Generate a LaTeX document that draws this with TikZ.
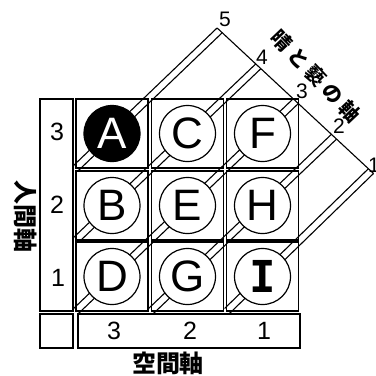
\documentclass[tikz,border=0pt]{standalone}
\usepackage{fontspec}
\setmainfont{Liberation Sans}
\newfontfamily\cjk{Noto Sans CJK JP}
\newfontfamily\monoI{DejaVu Sans Mono}
\usetikzlibrary{calc}
\begin{document}
\begin{tikzpicture}[x=1pt,y=-1pt,
  cellbox/.style={draw, line width=1.3pt, inner sep=0pt, minimum width=72pt, minimum height=69pt},
  framebox/.style={draw, line width=1.3pt, inner sep=0pt},
  stripline/.style={line width=1.1pt},
  disc/.style={circle, draw, line width=1.2pt, fill=white, minimum size=56pt, inner sep=0pt, font=\fontsize{44}{44}\selectfont},
  num/.style={font=\fontsize{25}{25}\selectfont, inner sep=0pt},
  tipnum/.style={font=\fontsize{21}{21}\selectfont, inner sep=0pt},
  jp/.style={font=\cjk\bfseries\fontsize{24}{24}\selectfont, inner sep=0pt},
  jpdiag/.style={font=\cjk\bfseries\fontsize{20}{20}\selectfont, inner sep=0pt}]
\useasboundingbox (0,0) rectangle (376,376);
\fill[white] (0,0) rectangle (376,376);
% boundary reference line of the diagonal axis
\coordinate (Q5) at (215,26);
\coordinate (Q1) at (373,173);
% diagonal strips
\foreach \k/\sx/\sy/\ex/\ey in {5/76/168/148/99, 4/76/240/224/99, 3/76/311/298/99, 2/151/311/298/171, 1/227/311/298/242} {
  \coordinate (s\k) at (\sx,\sy);
  \coordinate (e\k) at (\ex,\ey);
  \coordinate (sa\k) at ($(s\k)!3.5pt!90:(e\k)$);
  \coordinate (ea\k) at ($(e\k)!3.5pt!-90:(s\k)$);
  \coordinate (sb\k) at ($(s\k)!3.5pt!-90:(e\k)$);
  \coordinate (eb\k) at ($(e\k)!3.5pt!90:(s\k)$);
  \coordinate (ta\k) at (intersection cs: first line={(sa\k)--(ea\k)}, second line={(Q5)--(Q1)});
  \coordinate (tb\k) at (intersection cs: first line={(sb\k)--(eb\k)}, second line={(Q5)--(Q1)});
  \draw[stripline] (sa\k) -- (ta\k);
  \draw[stripline] (sb\k) -- (tb\k);
}
\draw[stripline] (ta5) -- (tb1);
% grid cells
\node (cA) [cellbox] at (112,133.5) {};
\node (cC) [cellbox] at (187.5,133.5) {};
\node (cF) [cellbox] at (262.5,133.5) {};
\node (cB) [cellbox] at (112,205.5) {};
\node (cE) [cellbox] at (187.5,205.5) {};
\node (cH) [cellbox] at (262.5,205.5) {};
\node (cD) [cellbox] at (112,276.5) {};
\node (cG) [cellbox] at (187.5,276.5) {};
\node (cI) [cellbox] at (262.5,276.5) {};
% circles
\node (nA) [disc, fill=black, text=white] at (cA) {A};
\node (nC) [disc] at (cC) {C};
\node (nF) [disc] at (cF) {F};
\node (nB) [disc] at (cB) {B};
\node (nE) [disc] at (cE) {E};
\node (nH) [disc] at (cH) {H};
\node (nD) [disc] at (cD) {D};
\node (nG) [disc] at (cG) {G};
\node (nI) [disc, font=\monoI\bfseries\fontsize{44}{44}\selectfont] at (cI) {I};
% left column
\node (lcol) [framebox, minimum width=33pt, minimum height=212pt] at (56.5,205) {};
\node (y3) [num] at (57,132) {3};
\node (y2) [num] at (57,205) {2};
\node (y1) [num] at (58,278) {1};
% bottom row
\node (corner) [framebox, minimum width=33pt, minimum height=34pt] at (56.5,331) {};
\node (brow) [framebox, minimum width=222pt, minimum height=34pt] at (189,331) {};
\node (x3) [num] at (114,331) {3};
\node (x2) [num] at (190,331) {2};
\node (x1) [num] at (264,331) {1};
% diagonal numbers
\node (l5) [tipnum] at (225,19) {5};
\node (l4) [tipnum] at (262,57) {4};
\node (l3) [tipnum] at (302,91) {3};
\node (l2) [tipnum] at (339,126) {2};
\node (l1) [tipnum] at (374,165) {1};
% axis labels
\node (xlab) [jp] at (168,363) {空間軸};
\node (ylab) [jp, rotate=-90] at (26,216) {人間軸};
\node (dlab) [jpdiag, rotate=-46.5] at (316,76) {晴\hspace{4.5pt}と\hspace{4.5pt}褻\hspace{4.5pt}の\hspace{4.5pt}軸};
\end{tikzpicture}
\end{document}
